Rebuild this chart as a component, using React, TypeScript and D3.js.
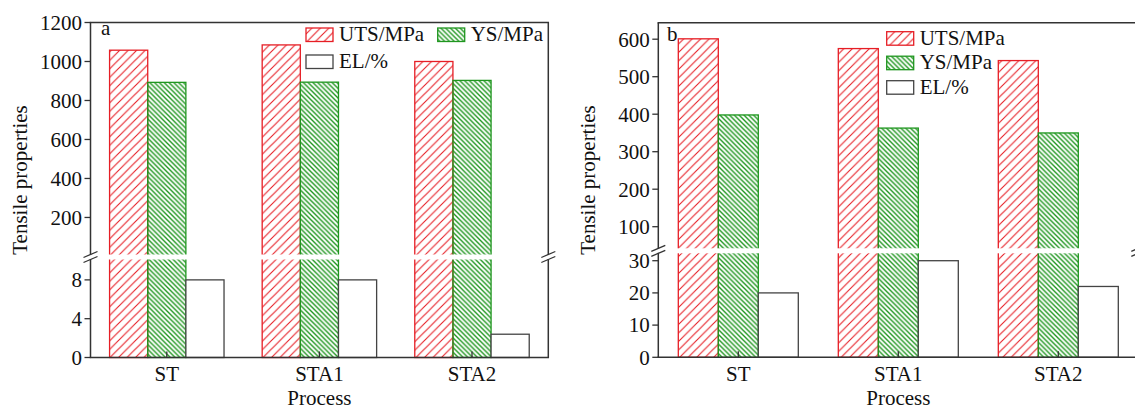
import React from "react";
import * as d3 from "d3";

const categories = ["ST", "STA1", "STA2"];
const seriesNames = ["UTS/MPa", "YS/MPa", "EL/%"];

const utsA = [1058, 1085, 1000];
const ysA = [893, 894, 903];
const elA = [8, 8, 2.4];

const utsB = [601, 575, 543];
const ysB = [398, 363, 350];
const elB = [20, 30, 22];

const upperTicksA = [200, 400, 600, 800, 1000, 1200];
const lowerTicksA = [0, 4, 8];
const upperTicksB = [100, 200, 300, 400, 500, 600];
const lowerTicksB = [0, 10, 20, 30];

const RED = "#e61e25";
const GREEN = "#1f961f";
const AXIS = "#333";
const FONT = "'Liberation Serif', 'Times New Roman', serif";

type PanelCfg = {
  id: string;
  label: string;
  x0: number;
  x1: number;
  top: number;
  bottom: number;
  gapTop: number;
  gapBot: number;
  upperDomain: [number, number];
  lowerDomain: [number, number];
  upperTicks: number[];
  lowerTicks: number[];
  uts: number[];
  ys: number[];
  el: number[];
  labelPos: [number, number];
  legend: "two" | "one";
  legendX: number;
  legendY: number;
};

const panels: PanelCfg[] = [
  {
    id: "a",
    label: "a",
    x0: 90.5,
    x1: 548.3,
    top: 22.5,
    bottom: 357.5,
    gapTop: 254.5,
    gapBot: 259.5,
    upperDomain: [10, 1200],
    lowerDomain: [0, 10.1],
    upperTicks: upperTicksA,
    lowerTicks: lowerTicksA,
    uts: utsA,
    ys: ysA,
    el: elA,
    labelPos: [101, 35],
    legend: "two",
    legendX: 306,
    legendY: 28,
  },
  {
    id: "b",
    label: "b",
    x0: 658.3,
    x1: 1138.3,
    top: 22.7,
    bottom: 357.3,
    gapTop: 248.3,
    gapBot: 253.3,
    upperDomain: [42.4, 644],
    lowerDomain: [0, 32.3],
    upperTicks: upperTicksB,
    lowerTicks: lowerTicksB,
    uts: utsB,
    ys: ysB,
    el: elB,
    labelPos: [667, 40.5],
    legend: "one",
    legendX: 886.7,
    legendY: 31.7,
  },
];

function BreakMark({ x, y1, y2 }: { x: number; y1: number; y2: number }) {
  const dx = 7;
  const dy = 3;
  return (
    <g>
      <rect x={x - 2} y={y1 + 0.5} width={4} height={y2 - y1 - 1} fill="#fff" />
      <line x1={x - dx} y1={y1 + dy} x2={x + dx} y2={y1 - dy} stroke={AXIS} strokeWidth={1.3} />
      <line x1={x - dx} y1={y2 + dy} x2={x + dx} y2={y2 - dy} stroke={AXIS} strokeWidth={1.3} />
    </g>
  );
}

function Panel({ p }: { p: PanelCfg }) {
  const xBand = d3.scaleBand<string>().domain(categories).range([p.x0, p.x1]).paddingInner(0).paddingOuter(0);
  const bw = xBand.bandwidth();
  const sub = d3.scaleBand<string>().domain(seriesNames).range([bw * 0.125, bw * 0.875]).padding(0);
  const yU = d3.scaleLinear().domain(p.upperDomain).range([p.gapTop, p.top]);
  const yL = d3.scaleLinear().domain(p.lowerDomain).range([p.bottom, p.gapBot]);
  const yOf = (v: number) => (v > p.lowerDomain[1] ? yU(v) : yL(v));

  const series = [
    { name: seriesNames[0], vals: p.uts, fill: `url(#hatchR-${p.id})`, stroke: RED },
    { name: seriesNames[1], vals: p.ys, fill: `url(#hatchG-${p.id})`, stroke: GREEN },
    { name: seriesNames[2], vals: p.el, fill: "#fff", stroke: "#444" },
  ];

  const tickLen = 6;
  const labelX = p.x0 - 8.5;
  const cx = (p.x0 + p.x1) / 2;

  const legendItems = series.map((s, i) => {
    let lx: number, ly: number;
    if (p.legend === "two") {
      lx = i === 1 ? p.legendX + 131.7 : p.legendX;
      ly = i === 2 ? p.legendY + 27 : p.legendY;
    } else {
      lx = p.legendX;
      ly = p.legendY + i * 24.5;
    }
    return (
      <g key={s.name}>
        <rect x={lx} y={ly} width={27} height={13.5} fill={s.fill} stroke={s.stroke} strokeWidth={1.3} />
        <text x={lx + 33} y={ly + 13} fontSize={21} fontFamily={FONT} fill="#111">
          {s.name}
        </text>
      </g>
    );
  });

  const R = 8.5;
  const G = 4.8;

  return (
    <g>
      <defs>
        <pattern id={`hatchR-${p.id}`} patternUnits="userSpaceOnUse" width={R} height={R}>
          <path
            d={`M0,${R} L${R},0 M${-R / 4},${R / 4} L${R / 4},${-R / 4} M${(3 * R) / 4},${(5 * R) / 4} L${(5 * R) / 4},${(3 * R) / 4}`}
            stroke={RED}
            strokeWidth={1.1}
          />
        </pattern>
        <pattern id={`hatchG-${p.id}`} patternUnits="userSpaceOnUse" width={G} height={G}>
          <path
            d={`M0,0 L${G},${G} M${-G / 4},${(3 * G) / 4} L${G / 4},${(5 * G) / 4} M${(3 * G) / 4},${-G / 4} L${(5 * G) / 4},${G / 4}`}
            stroke={GREEN}
            strokeWidth={1.4}
          />
        </pattern>
      </defs>

      {/* bars */}
      {categories.map((c, ci) =>
        series.map((s) => {
          const x = (xBand(c) as number) + (sub(s.name) as number);
          const y = yOf(s.vals[ci]);
          return (
            <rect
              key={c + s.name}
              x={x}
              y={y}
              width={sub.bandwidth()}
              height={p.bottom - y}
              fill={s.fill}
              stroke={s.stroke}
              strokeWidth={1.3}
            />
          );
        })
      )}

      {/* break gap */}
      <rect x={p.x0 + 1} y={p.gapTop} width={p.x1 - p.x0 - 2} height={p.gapBot - p.gapTop} fill="#fff" />

      {/* frame */}
      <line x1={p.x0} y1={p.top} x2={p.x0} y2={p.bottom} stroke={AXIS} strokeWidth={1.5} />
      <line x1={p.x1} y1={p.top} x2={p.x1} y2={p.bottom} stroke={AXIS} strokeWidth={1.5} />
      <line x1={p.x0 - 0.75} y1={p.top} x2={p.x1 + 0.75} y2={p.top} stroke={AXIS} strokeWidth={1.5} />
      <line x1={p.x0 - 0.75} y1={p.bottom} x2={p.x1 + 0.75} y2={p.bottom} stroke={AXIS} strokeWidth={1.5} />

      <BreakMark x={p.x0} y1={p.gapTop} y2={p.gapBot} />
      <BreakMark x={p.x1} y1={p.gapTop} y2={p.gapBot} />

      {/* y ticks */}
      {p.upperTicks.map((t) => (
        <g key={"u" + t}>
          <line x1={p.x0 - tickLen} x2={p.x0} y1={yU(t)} y2={yU(t)} stroke={AXIS} strokeWidth={1.3} />
          <text x={labelX} y={yU(t)} dy="0.35em" textAnchor="end" fontSize={21} fontFamily={FONT} fill="#111">
            {t}
          </text>
        </g>
      ))}
      {p.lowerTicks.map((t) => (
        <g key={"l" + t}>
          <line x1={p.x0 - tickLen} x2={p.x0} y1={yL(t)} y2={yL(t)} stroke={AXIS} strokeWidth={1.3} />
          <text x={labelX} y={yL(t)} dy="0.35em" textAnchor="end" fontSize={21} fontFamily={FONT} fill="#111">
            {t}
          </text>
        </g>
      ))}

      {/* x ticks */}
      {categories.map((c) => {
        const x = (xBand(c) as number) + bw / 2;
        return (
          <g key={"x" + c}>
            <line x1={x} x2={x} y1={p.bottom} y2={p.bottom - 6} stroke={AXIS} strokeWidth={1.3} />
            <text x={x} y={380.7} textAnchor="middle" fontSize={21} fontFamily={FONT} fill="#111">
              {c}
            </text>
          </g>
        );
      })}

      {/* titles */}
      <text x={cx} y={405} textAnchor="middle" fontSize={21} fontFamily={FONT} fill="#111">
        Process
      </text>
      <text
        transform={`translate(${p.x0 - 70.5},180) rotate(-90)`}
        x={0}
        y={0}
        dy="0.35em"
        textAnchor="middle"
        fontSize={21}
        fontFamily={FONT}
        fill="#111"
      >
        Tensile properties
      </text>
      <text x={p.labelPos[0]} y={p.labelPos[1]} fontSize={21} fontFamily={FONT} fill="#111">
        {p.label}
      </text>

      {legendItems}
    </g>
  );
}

export default function App() {
  return (
    <svg
      width={1135}
      height={409}
      viewBox="0 0 1135 409"
      style={{ position: "absolute", left: 0, top: 0, background: "#fff" }}
    >
      <rect width={1135} height={409} fill="#fff" />
      {panels.map((p) => (
        <Panel key={p.id} p={p} />
      ))}
    </svg>
  );
}
